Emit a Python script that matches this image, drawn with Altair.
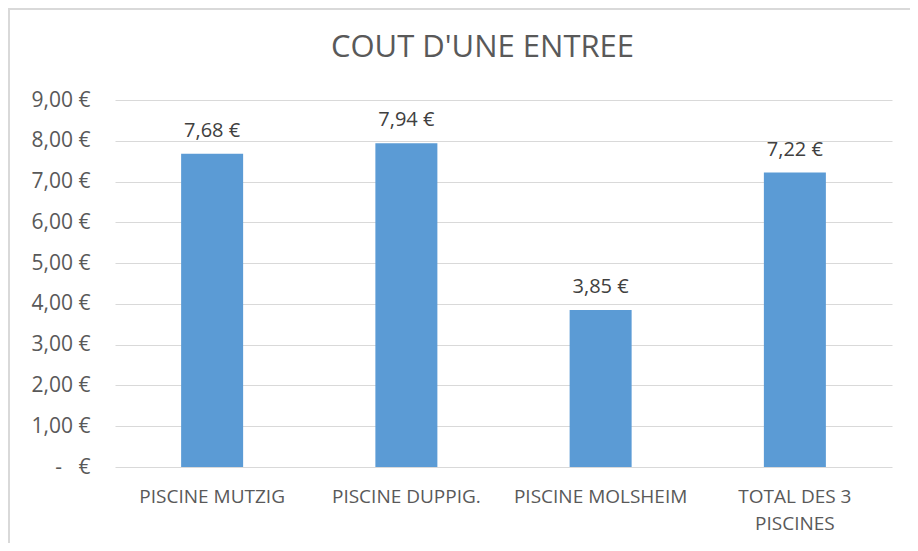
import altair as alt
import pandas as pd

categories = ["PISCINE MUTZIG", "PISCINE DUPPIG.", "PISCINE MOLSHEIM", "TOTAL DES 3 PISCINES"]
values = [7.68, 7.94, 3.85, 7.22]
value_labels = ["7,68 €", "7,94 €", "3,85 €", "7,22 €"]

df = pd.DataFrame({"cat": categories, "val": values, "lab": value_labels})

FONT = "Open Sans"
GREY = "#595959"

x = alt.X("cat:N", sort=categories, title=None,
          scale=alt.Scale(paddingInner=0.68, paddingOuter=0.34),
          axis=alt.Axis(labelAngle=0, ticks=False, domain=False, labelFontSize=19,
                        labelColor=GREY, labelFont=FONT, labelPadding=20, labelLineHeight=27,
                        labelExpr="datum.label == 'TOTAL DES 3 PISCINES' ? ['TOTAL DES 3', 'PISCINES'] : datum.label"))
y = alt.Y("val:Q", title=None,
          scale=alt.Scale(domain=[0, 9], nice=False),
          axis=alt.Axis(values=[0, 1, 2, 3, 4, 5, 6, 7, 8, 9], ticks=False, domain=False,
                        gridColor="#d9d9d9", gridWidth=1, labelFontSize=21, labelColor=GREY,
                        labelFont=FONT, labelPadding=25,
                        labelExpr="datum.value == 0 ? '-\u00a0\u00a0\u00a0€' : replace(format(datum.value, '.2f'), '.', ',') + ' €'"))

bars = alt.Chart(df).mark_bar(color="#5b9bd5", size=62).encode(x=x, y=y)
text = alt.Chart(df).mark_text(baseline="alphabetic", dy=-17, fontSize=20, color="#404040", font=FONT).encode(
    x=alt.X("cat:N", sort=categories), y="val:Q", text="lab:N")

border = alt.Chart(pd.DataFrame({"a": [0]})).mark_rect(
    fill=None, stroke="#d9d9d9", strokeWidth=2, clip=False).encode(
    x=alt.value(-106), x2=alt.value(830), y=alt.value(-91), y2=alt.value(500))

chart = alt.layer(border, bars, text).properties(
    width=777, height=367,
    padding={"left": 107, "top": 92, "right": 18, "bottom": 76},
    autosize=alt.AutoSizeParams(type="none"),
    title=alt.TitleParams("COUT D'UNE ENTREE", fontSize=31, font=FONT, fontWeight="normal",
                          color=GREY, anchor="middle", frame="group", dx=-21, offset=-56),
).configure_view(stroke=None)

chart.save("out.html", embed_options={"renderer": "svg", "actions": False})
